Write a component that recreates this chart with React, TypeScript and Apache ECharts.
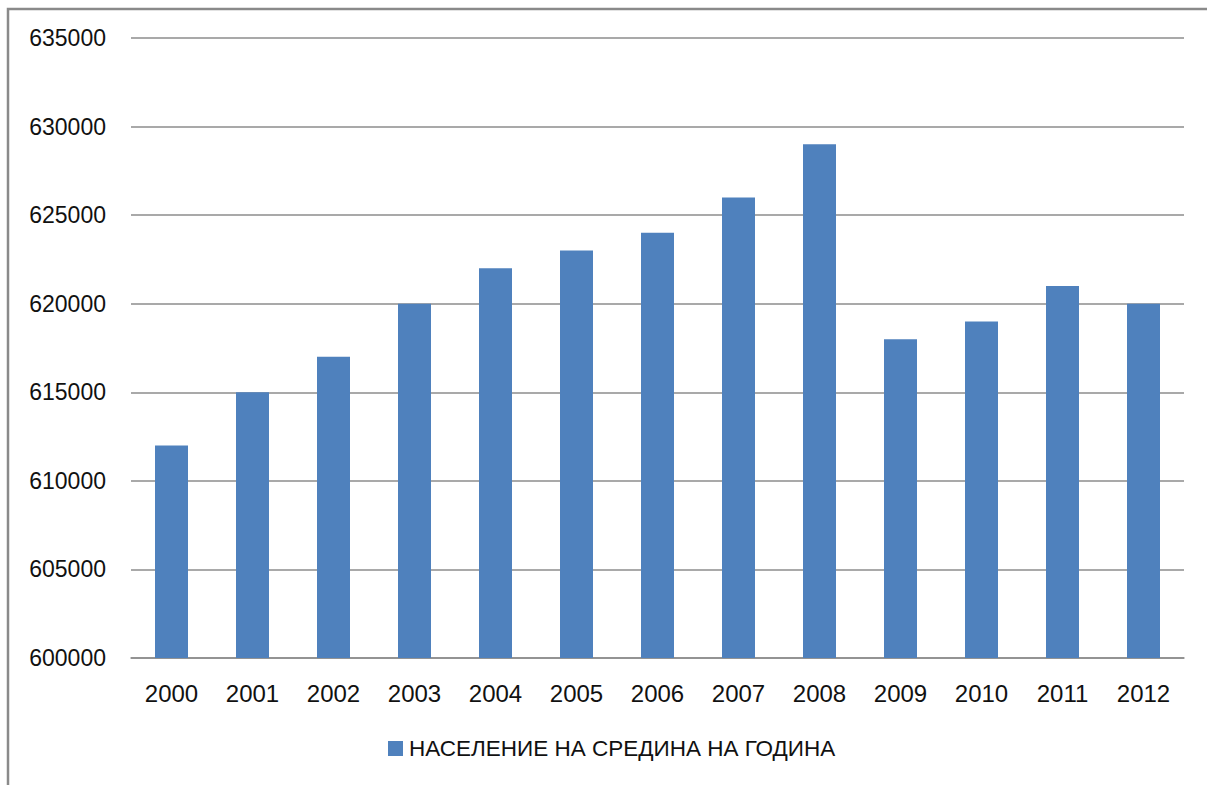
import React, { useEffect, useRef } from "react";
import * as echarts from "echarts";

const years = ["2000", "2001", "2002", "2003", "2004", "2005", "2006", "2007", "2008", "2009", "2010", "2011", "2012"];
const population = [612000, 615000, 617000, 620000, 622000, 623000, 624000, 626000, 629000, 618000, 619000, 621000, 620000];
const seriesName = "НАСЕЛЕНИЕ НА СРЕДИНА НА ГОДИНА";

export default function App() {
  const ref = useRef<HTMLDivElement>(null);
  useEffect(() => {
    if (!ref.current) return;
    const chart = echarts.init(ref.current, undefined, { renderer: "svg" });
    chart.setOption({
      animation: false,
      backgroundColor: "#ffffff",
      textStyle: { fontFamily: "Liberation Sans" },
      graphic: [
        {
          type: "rect",
          shape: { x: 8, y: 9, width: 1400, height: 1000 },
          style: { fill: "none", stroke: "#8a8a8a", lineWidth: 2.5 },
          silent: true,
        },
      ],
      grid: { left: 131, right: 23, top: 38, bottom: 127, containLabel: false },
      legend: {
        bottom: 20,
        left: 383,
        itemWidth: 15,
        itemHeight: 15,
        itemGap: 10,
        textStyle: { fontSize: 22.5, color: "#111", fontFamily: "Liberation Sans", padding: [0, 0, 0, 1] },
        data: [{ name: seriesName, icon: "rect" }],
      },
      xAxis: {
        type: "category",
        data: years,
        axisLine: { lineStyle: { color: "#8c8c8c", width: 1.5 } },
        axisTick: { show: false },
        axisLabel: { fontSize: 24, color: "#111", margin: 23 },
      },
      yAxis: {
        type: "value",
        min: 600000,
        max: 635000,
        interval: 5000,
        axisLine: { show: false },
        axisTick: { show: false },
        axisLabel: { fontSize: 23, color: "#111", margin: 25, formatter: (v: number) => String(v) },
        splitLine: { lineStyle: { color: "#8c8c8c", width: 1.5 } },
      },
      series: [
        {
          name: seriesName,
          type: "bar",
          data: population,
          barWidth: 33,
          itemStyle: { color: "#4f81bd" },
        },
      ],
    });
    return () => chart.dispose();
  }, []);
  return <div ref={ref} style={{ position: "absolute", left: 0, top: 0, width: 1207, height: 785 }} />;
}
